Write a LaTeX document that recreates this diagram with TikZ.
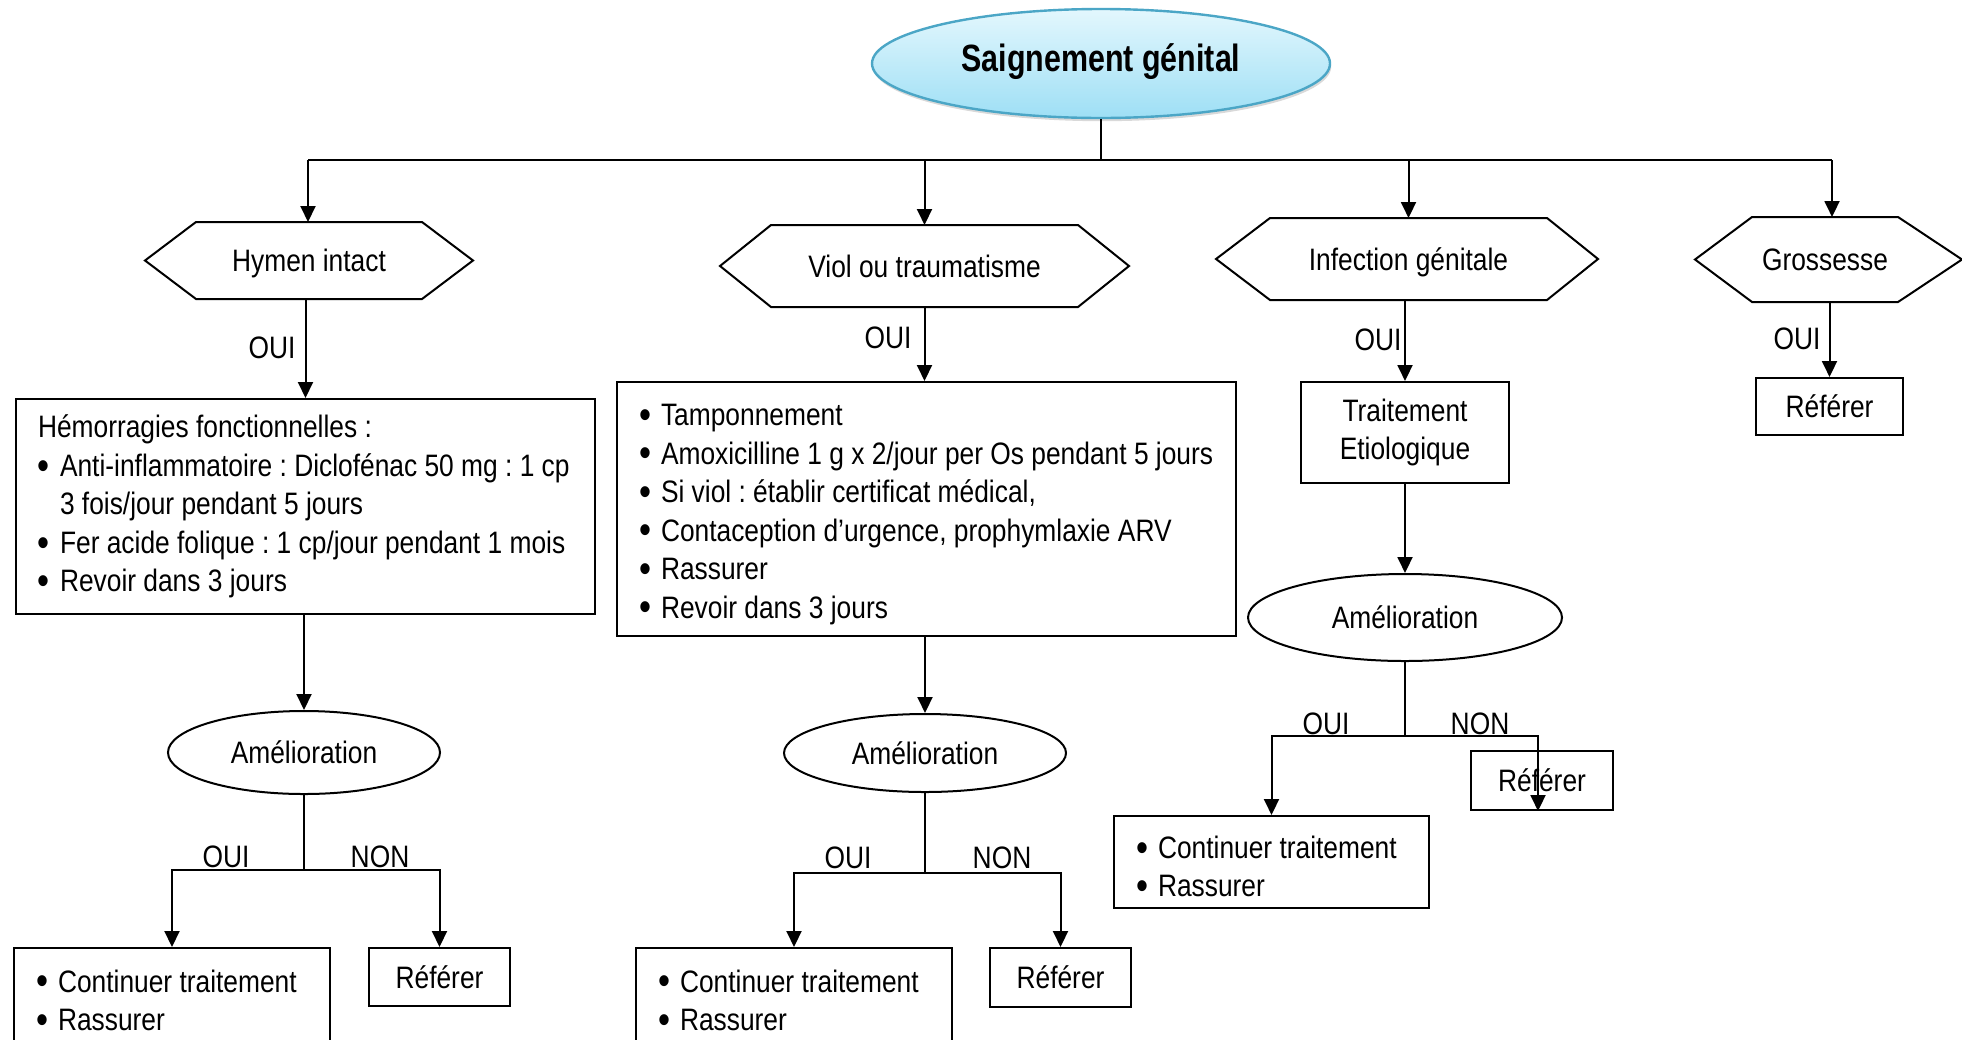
\documentclass[tikz,border=0pt]{standalone}
\usepackage{fontspec}
\usepackage{graphicx}
\setmainfont{Liberation Sans}[FakeStretch=0.85]
\newfontfamily\headfont{Liberation Sans}[FakeStretch=0.80]
\usetikzlibrary{arrows.meta,shapes.geometric,shadows}
\frenchspacing

\definecolor{headtop}{HTML}{E3F7FD}
\definecolor{headbot}{HTML}{9EDFF5}
\definecolor{headrim}{HTML}{4BA6C6}

% bulleted lines inside the treatment boxes (natural interword spaces)
\newcommand\natsp{\spaceskip=0pt\xspaceskip=0pt}
\newcommand\bdot{\makebox[11pt][l]{\raisebox{-1.4pt}{\scalebox{1.3}{\textbullet}}}}
\newcommand\bitem[1]{\mbox{\natsp\bdot#1}}
\newcommand\bhang[1]{\mbox{\natsp\hspace*{11pt}#1}}
\newcommand\bline[1]{\mbox{\natsp#1}}
% hexagonal outline around a (hidden) rectangular node: name, left tip, right tip
\newcommand\hexoutline[3]{%
  \draw[hexline] (#1.north west) -- (#1.north east) -- ([xshift=#3]#1.east)
    -- (#1.south east) -- (#1.south west) -- ([xshift=-#2]#1.west) -- cycle;}

\begin{document}
\begin{tikzpicture}[x=0.5pt,y=-0.5pt,
  every node/.style={font=\fontsize{15.5pt}{19.25pt}\selectfont, inner sep=0pt, outer sep=0pt},
  wire/.style={line width=1pt, draw=black},
  arr/.style={wire, -{Triangle[length=8pt,width=7.5pt]}},
  oneline/.style={text height=11.2pt, text depth=0pt},
  hexa/.style={oneline},
  hexline/.style={wire, line join=miter},
  box/.style={draw, line width=1pt, rectangle, outer sep=0.5pt},
  listbox/.style={box, align=left, inner xsep=11pt},
  refbox/.style={box, oneline},
  amel/.style={draw, ellipse, line width=1pt, oneline, outer sep=0.5pt},
  lbl/.style={oneline},
  head/.style={ellipse, draw=headrim, line width=1.2pt, top color=headtop,
    bottom color=headbot,
    drop shadow={shadow xshift=0.6pt, shadow yshift=-1.6pt, opacity=0.3},
    font=\headfont\bfseries\fontsize{19pt}{23pt}\selectfont,
    text height=13.7pt, text depth=6.1pt, outer sep=0.6pt}
]
\useasboundingbox (0,0) rectangle (1962,1039);
\clip (0,0) rectangle (1962,1039);

% ---- title
\node[head, minimum width=229pt, minimum height=54.5pt] (title) at (1101,63.5) {Saignement génital};

% ---- the four situations
\node[hexa, minimum width=113pt, minimum height=38.5pt] (hymen) at (309,260.5) {Hymen intact};
\node[hexa, minimum width=153.5pt, minimum height=41pt] (viol) at (924.5,266) {Viol ou traumatisme};
\node[hexa, minimum width=138.5pt, minimum height=41pt] (infect) at (1408.5,259) {Infection génitale};
\node[hexa, minimum width=73pt, minimum height=42.5pt] (gross) at (1825,259.5) {Grossesse};
\hexoutline{hymen}{25.5pt}{25.5pt}
\hexoutline{viol}{25.5pt}{25.5pt}
\hexoutline{infect}{27pt}{25.5pt}
\hexoutline{gross}{28.5pt}{32pt}

% ---- treatments
\node[listbox, minimum width=289.5pt, minimum height=107.5pt, text width=267.5pt] (hbox) at (305.5,506.5)
  {\bline{Hémorragies fonctionnelles :}\\
   \bitem{Anti-inflammatoire : Diclofénac 50 mg : 1 cp}\\
   \bhang{3 fois/jour pendant 5 jours}\\
   \bitem{Fer acide folique : 1 cp/jour pendant 1 mois}\\
   \bitem{Revoir dans 3 jours}};
\node[listbox, minimum width=309.5pt, minimum height=127pt, text width=287.5pt] (vbox) at (926.5,509)
  {\rule{0pt}{16pt}\bitem{Tamponnement}\\
   \bitem{Amoxicilline 1 g x 2/jour per Os pendant 5 jours}\\
   \bitem{Si viol : établir certificat médical,}\\
   \bitem{Contaception d’urgence, prophymlaxie ARV}\\
   \bitem{Rassurer}\\
   \bitem{Revoir dans 3 jours}};
\node[box, align=center, minimum width=104pt, minimum height=50.5pt] (tbox) at (1405,432.5)
  {Traitement\\Etiologique};
\node[refbox, minimum width=73.5pt, minimum height=28.5pt] (ref4) at (1829.5,406.5) {Référer};

% ---- follow-up
\node[amel, minimum width=136pt, minimum height=41.5pt] (am1) at (304,752.5) {Amélioration};
\node[amel, minimum width=141pt, minimum height=39pt] (am2) at (925,753) {Amélioration};
\node[amel, minimum width=157pt, minimum height=43.5pt] (am3) at (1405,617.5) {Amélioration};

\node[listbox, minimum width=158pt, minimum height=53.5pt, text width=136pt] (cont1) at (172,1001.5)
  {\bitem{Continuer traitement}\\ \bitem{Rassurer}};
\node[listbox, minimum width=158pt, minimum height=53.5pt, text width=136pt] (cont2) at (794,1001.5)
  {\bitem{Continuer traitement}\\ \bitem{Rassurer}};
\node[listbox, minimum width=157.5pt, minimum height=46pt, text width=135.5pt] (cont3) at (1271.5,862)
  {\rule{0pt}{17pt}\bitem{Continuer traitement}\\ \bitem{Rassurer}};
\node[refbox, minimum width=70.5pt, minimum height=29pt] (ref1) at (439.5,977) {Référer};
\node[refbox, minimum width=70.5pt, minimum height=29.5pt] (ref2) at (1060.5,977.5) {Référer};
\node[refbox, minimum width=71pt, minimum height=29.5pt] (ref3) at (1542,780.5) {Référer};

% ---- branch labels
\node[lbl] (oui1) at (272,347) {OUI};
\node[lbl] (oui2) at (888,337) {OUI};
\node[lbl] (oui3) at (1378,339) {OUI};
\node[lbl] (oui4) at (1797,338) {OUI};
\node[lbl] (oui5) at (226,856) {OUI};
\node[lbl] (non5) at (380,856) {NON};
\node[lbl] (oui6) at (848,857) {OUI};
\node[lbl] (non6) at (1002,857) {NON};
\node[lbl] (oui7) at (1326,723) {OUI};
\node[lbl] (non7) at (1480,723) {NON};

% ---- connectors
\coordinate (busL) at (308,160);
\coordinate (busR) at (1832,160);
\draw[wire] (title.south) -- (title.south |- busL);
\draw[wire] (busL) -- (busR);
\draw[arr] (busL) -- (busL |- hymen.north);
\draw[arr] (viol.north |- busL) -- (viol.north);
\draw[arr] (infect.north |- busL) -- (infect.north);
\draw[arr] (busR) -- (busR |- gross.north);

\draw[arr] (hbox.north |- hymen.south) -- (hbox.north);
\draw[arr] (viol.south) -- (viol.south |- vbox.north);
\draw[arr] (tbox.north |- infect.south) -- (tbox.north);
\draw[arr] (ref4.north |- gross.south) -- (ref4.north);

\draw[arr] (am1.north |- hbox.south) -- (am1.north);
\draw[arr] (am2.north |- vbox.south) -- (am2.north);
\draw[arr] (am3.north |- tbox.south) -- (am3.north);

\path (am1.south) ++(0,75) coordinate (s1);
\path (am2.south) ++(0,80) coordinate (s2);
\path (am3.south) ++(0,74) coordinate (s3);
\draw[wire] (am1.south) -- (s1);
\draw[wire] (am2.south) -- (s2);
\draw[wire] (am3.south) -- (s3);
\draw[arr] (s1) -| (cont1.north);
\draw[arr] (s1) -| (ref1.north);
\draw[arr] (s2) -| (cont2.north);
\draw[arr] (s2) -| (ref2.north);
\draw[arr] (s3) -| (cont3.north);
\draw[arr] (s3) -| ([xshift=-2pt]ref3.south);
\end{tikzpicture}
\end{document}
